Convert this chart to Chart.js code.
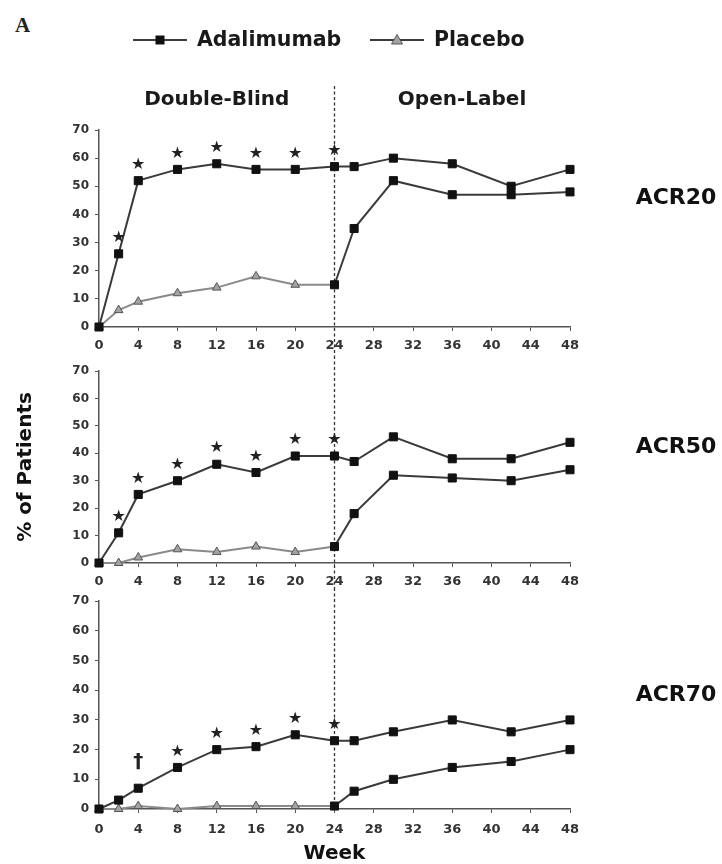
<!DOCTYPE html>
<html>
<head>
<meta charset="utf-8">
<script src="https://cdn.jsdelivr.net/npm/chart.js@4.4.1/dist/chart.umd.min.js"></script>
<style>
body{margin:0;background:#fff}
#wrap{position:relative;width:722px;height:864px;overflow:hidden;background:#fff}
canvas{position:absolute;left:0}
#lblA{position:absolute;left:15px;top:13px;font:bold 21px "Liberation Serif",serif;color:#222}
</style>
</head>
<body>
<div id="wrap">
<div id="lblA">A</div>
<canvas id="c1" width="722" height="356" style="top:0"></canvas>
<canvas id="c2" width="722" height="232" style="top:356px"></canvas>
<canvas id="c3" width="722" height="276" style="top:588px"></canvas>
</div>
<script>
const weeks = [0, 2, 4, 8, 12, 16, 20, 24, 26, 30, 36, 42, 48]
const acr20Adalimumab = [0, 26, 52, 56, 58, 56, 56, 57, 57, 60, 58, 50, 56]
const acr20Placebo = [0, 6, 9, 12, 14, 18, 15, 15, 35, 52, 47, 47, 48]
const acr50Adalimumab = [0, 11, 25, 30, 36, 33, 39, 39, 37, 46, 38, 38, 44]
const acr50Placebo = [0, 0, 2, 5, 4, 6, 4, 6, 18, 32, 31, 30, 34]
const acr70Adalimumab = [0, 3, 7, 14, 20, 21, 25, 23, 23, 26, 30, 26, 30]
const acr70Placebo = [0, 0, 1, 0, 1, 1, 1, 1, 6, 10, 14, 16, 20]

// marks above the adalimumab points (★ = significant, † = other p level)
const acr20Sig = ['', '★', '★', '★', '★', '★', '★', '★', '', '', '', '', '']
const acr50Sig = ['', '★', '★', '★', '★', '★', '★', '★', '', '', '', '', '']
const acr70Sig = ['', '', '†', '★', '★', '★', '★', '★', '', '', '', '', '']

const seriesNames = ['Adalimumab', 'Placebo']
const panelNames = ['ACR20', 'ACR50', 'ACR70']
const phaseNames = ['Double-Blind', 'Open-Label']
const phaseCenters = [12, 37]
const switchWeek = 24
const yMax = 70, yStep = 10
const xMax = 48, xStep = 4

const FONT = 'DejaVu Sans'
const DARK = '#3a3a3a'

const makeDatasets = (ada, pla) => {
    const before = w => w < switchWeek
    return [
        {
            label: seriesNames[0],
            data: weeks.map((w, i) => ({x: w, y: ada[i]})),
            borderColor: DARK,
            borderWidth: 2,
            pointStyle: 'rect',
            pointRadius: 5.7,
            pointBackgroundColor: '#111',
            pointBorderColor: '#111',
            pointBorderWidth: 1,
            clip: false
        },
        {
            label: seriesNames[1],
            data: weeks.map((w, i) => ({x: w, y: pla[i]})),
            borderColor: DARK,
            borderWidth: 2,
            segment: {
                borderColor: c => before(c.p0.parsed.x) ? '#8a8a8a' : DARK
            },
            pointStyle: weeks.map(w => before(w) ? 'triangle' : 'rect'),
            pointRadius: weeks.map(w => before(w) ? 5 : 5.7),
            pointBackgroundColor: weeks.map(w => before(w) ? '#a3a3a3' : '#111'),
            pointBorderColor: weeks.map(w => before(w) ? '#555' : '#111'),
            pointBorderWidth: 1,
            clip: false
        }
    ]
}

/**
 * linha tracejada da semana 24, marcas de significância, rótulos e legenda
 */
const decor = {
    id: 'decor',
    beforeDatasetsDraw(chart, args, opts) {
        const ctx = chart.ctx
        const xp = chart.scales.x.getPixelForValue(switchWeek)
        const bottom = opts.lineToArea ? chart.chartArea.bottom : chart.height
        ctx.save()
        ctx.strokeStyle = '#333'
        ctx.lineWidth = 1.3
        ctx.setLineDash([3, 2.5])
        ctx.beginPath()
        ctx.moveTo(xp, opts.lineTop)
        ctx.lineTo(xp, bottom)
        ctx.stroke()
        ctx.restore()
    },
    afterDatasetsDraw(chart, args, opts) {
        const ctx = chart.ctx
        const xs = chart.scales.x
        const meta = chart.getDatasetMeta(0)
        ctx.save()
        ctx.fillStyle = '#222'
        ctx.textAlign = 'center'
        ctx.textBaseline = 'middle'
        opts.sig.forEach((s, i) => {
            if (!s) return
            const p = meta.data[i]
            if (s === '†') {
                ctx.font = `bold 20px "${FONT}"`
                ctx.fillText(s, p.x, p.y - 26)
            } else {
                ctx.font = `16px "${FONT}"`
                ctx.fillText(s, p.x, p.y - 16)
            }
        })
        // nome do painel à direita
        ctx.font = `bold 22px "${FONT}"`
        ctx.fillStyle = '#111'
        ctx.fillText(opts.name, 676, opts.nameY)

        if (opts.header) {
            ctx.font = `bold 20px "${FONT}"`
            ctx.fillStyle = '#1a1a1a'
            phaseNames.forEach((t, i) => ctx.fillText(t, xs.getPixelForValue(phaseCenters[i]), 100))

            // legenda
            const legendX = [133, 370]
            const ly = 40
            chart.data.datasets.forEach((ds, i) => {
                const x0 = legendX[i]
                ctx.strokeStyle = DARK
                ctx.lineWidth = 2
                ctx.beginPath()
                ctx.moveTo(x0, ly)
                ctx.lineTo(x0 + 54, ly)
                ctx.stroke()
                const cx = x0 + 27
                ctx.lineWidth = 1
                if (i === 0) {
                    ctx.fillStyle = '#111'
                    ctx.fillRect(cx - 4.5, ly - 4.5, 9, 9)
                } else {
                    ctx.fillStyle = '#a3a3a3'
                    ctx.strokeStyle = '#555'
                    ctx.beginPath()
                    ctx.moveTo(cx, ly - 5.5)
                    ctx.lineTo(cx + 5.5, ly + 4)
                    ctx.lineTo(cx - 5.5, ly + 4)
                    ctx.closePath()
                    ctx.fill()
                    ctx.stroke()
                }
                ctx.fillStyle = '#1a1a1a'
                ctx.textAlign = 'left'
                ctx.font = `bold 20.5px "${FONT}"`
                ctx.fillText(ds.label, x0 + 64, ly + 1)
                ctx.textAlign = 'center'
            })
        }
        ctx.restore()
    }
}

const gerarPainel = (id, ada, pla, cfg) => {
    const ctx = document.getElementById(id)
    new Chart(ctx, {
        type: 'line',
        data: {datasets: makeDatasets(ada, pla)},
        plugins: [decor],
        options: {
            responsive: false,
            animation: false,
            events: [],
            layout: {padding: {left: 0, right: 152, top: cfg.top, bottom: 0}},
            scales: {
                x: {
                    type: 'linear',
                    min: 0,
                    max: xMax,
                    afterFit: s => { s.height = cfg.xh },
                    border: {color: '#555', width: 1.5},
                    grid: {drawOnChartArea: false, tickLength: 4, color: '#555'},
                    ticks: {
                        stepSize: xStep,
                        padding: cfg.xpad,
                        color: '#333',
                        font: {family: FONT, size: 13, weight: 'bold'}
                    },
                    title: cfg.xTitle ? {
                        display: true,
                        text: cfg.xTitle,
                        color: '#111',
                        font: {family: FONT, size: 20, weight: 'bold', lineHeight: 1},
                        padding: {top: 0, bottom: 0}
                    } : {display: false}
                },
                y: {
                    min: 0,
                    max: yMax,
                    afterFit: s => { s.width = 99 },
                    border: {color: '#555', width: 1.5},
                    grid: {drawOnChartArea: false, tickLength: 4, color: '#555'},
                    ticks: {
                        stepSize: yStep,
                        padding: 6,
                        color: '#333',
                        font: {family: FONT, size: 12, weight: 'bold'}
                    },
                    title: cfg.yTitle ? {
                        display: true,
                        text: cfg.yTitle,
                        color: '#111',
                        font: {family: FONT, size: 20, weight: 'bold'},
                        padding: {top: 14, bottom: 0}
                    } : {display: false}
                }
            },
            plugins: {
                legend: {display: false},
                tooltip: {enabled: false},
                decor: {
                    sig: cfg.sig,
                    name: cfg.name,
                    nameY: cfg.nameY,
                    lineTop: cfg.lineTop,
                    lineToArea: cfg.lineToArea,
                    header: cfg.header
                }
            }
        }
    })
}

gerarPainel('c1', acr20Adalimumab, acr20Placebo, {
    top: 130, xh: 29, xpad: 7, sig: acr20Sig, name: panelNames[0], nameY: 198,
    lineTop: 86, lineToArea: false, header: true
})
gerarPainel('c2', acr50Adalimumab, acr50Placebo, {
    top: 15, xh: 25, xpad: 7, sig: acr50Sig, name: panelNames[1], nameY: 91,
    lineTop: 0, lineToArea: false, header: false, yTitle: '% of Patients'
})
gerarPainel('c3', acr70Adalimumab, acr70Placebo, {
    top: 9, xh: 55, xpad: 9, sig: acr70Sig, name: panelNames[2], nameY: 107,
    lineTop: 0, lineToArea: true, header: false, xTitle: 'Week'
})
</script>
</body>
</html>
